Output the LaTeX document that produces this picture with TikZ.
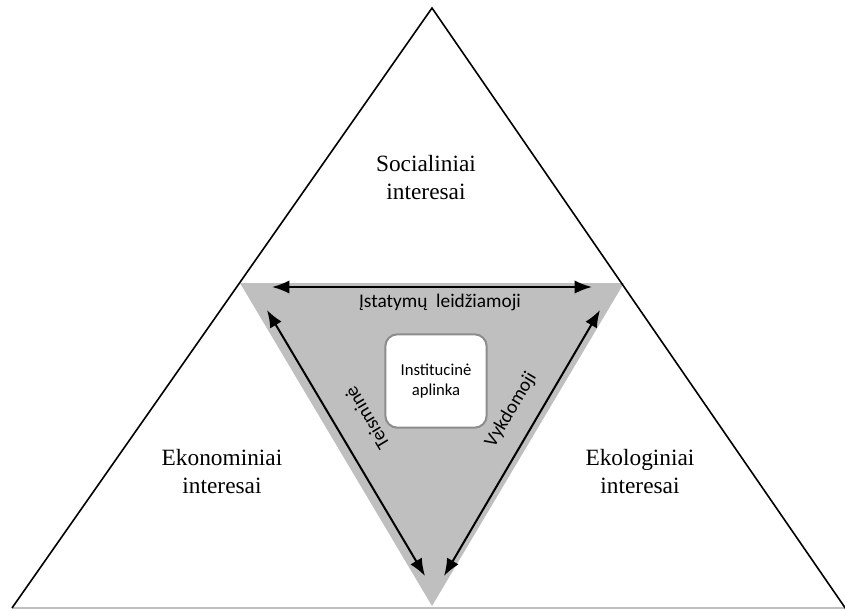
\documentclass[tikz,border=0pt]{standalone}
\usepackage{fontspec}
\setmainfont{Liberation Serif}
\newfontfamily\labelfont{Carlito}
\usetikzlibrary{arrows.meta}
\begin{document}
\begin{tikzpicture}[x=0.75pt,y=-0.75pt]
\tikzstyle{every loop}=[]
\tikzstyle{interest}=[align=center,font=\fontsize{17.5}{21}\selectfont]
\tikzstyle{power}=[font=\labelfont\fontsize{14.5}{17}\selectfont,inner sep=1pt]
\tikzstyle{branch}=[{Latex[length=13pt,width=10pt]}-{Latex[length=13pt,width=10pt]},line width=1.5pt]
\useasboundingbox (0,0) rectangle (845,610);
% outer and inner triangles
\fill[black!25] (240,283) -- (624,283) -- (432,606) -- cycle;
\draw[black!25,line width=1pt] (12,608) -- (845,608);
\draw[line width=1.2pt] (12,608) -- (432,8) -- (848,612);
\node[style={interest}] (1) at (426,178) {Socialiniai\\interesai};
\node[style={interest}] (2) at (222,472) {Ekonominiai\\interesai};
\node[style={interest}] (3) at (640,472) {Ekologiniai\\interesai};
\node[style={draw=black!45,line width=1.5pt,fill=white,rounded corners=9pt,
  minimum width=76pt,minimum height=70pt,align=center,
  font=\labelfont\fontsize{12.5}{15}\selectfont}] (4) at (436,381) {Institucinė\\aplinka};
\node[power] (11) at (440,302) {Įstatymų\ \ leidžiamoji};
\node[power,rotate=121] (12) at (367,418) {Teisminė};
\node[power,rotate=59] (13) at (511,410) {Vykdomoji};
\coordinate (5) at (272,287);
\coordinate (6) at (592,287);
\coordinate (7) at (267,310);
\coordinate (8) at (425,576);
\coordinate (9) at (600,310);
\coordinate (10) at (444,576);
\path[]
    (5) [branch] edge (6)
    (7) [branch] edge (8)
    (10) [branch] edge (9);
\end{tikzpicture}
\end{document}
